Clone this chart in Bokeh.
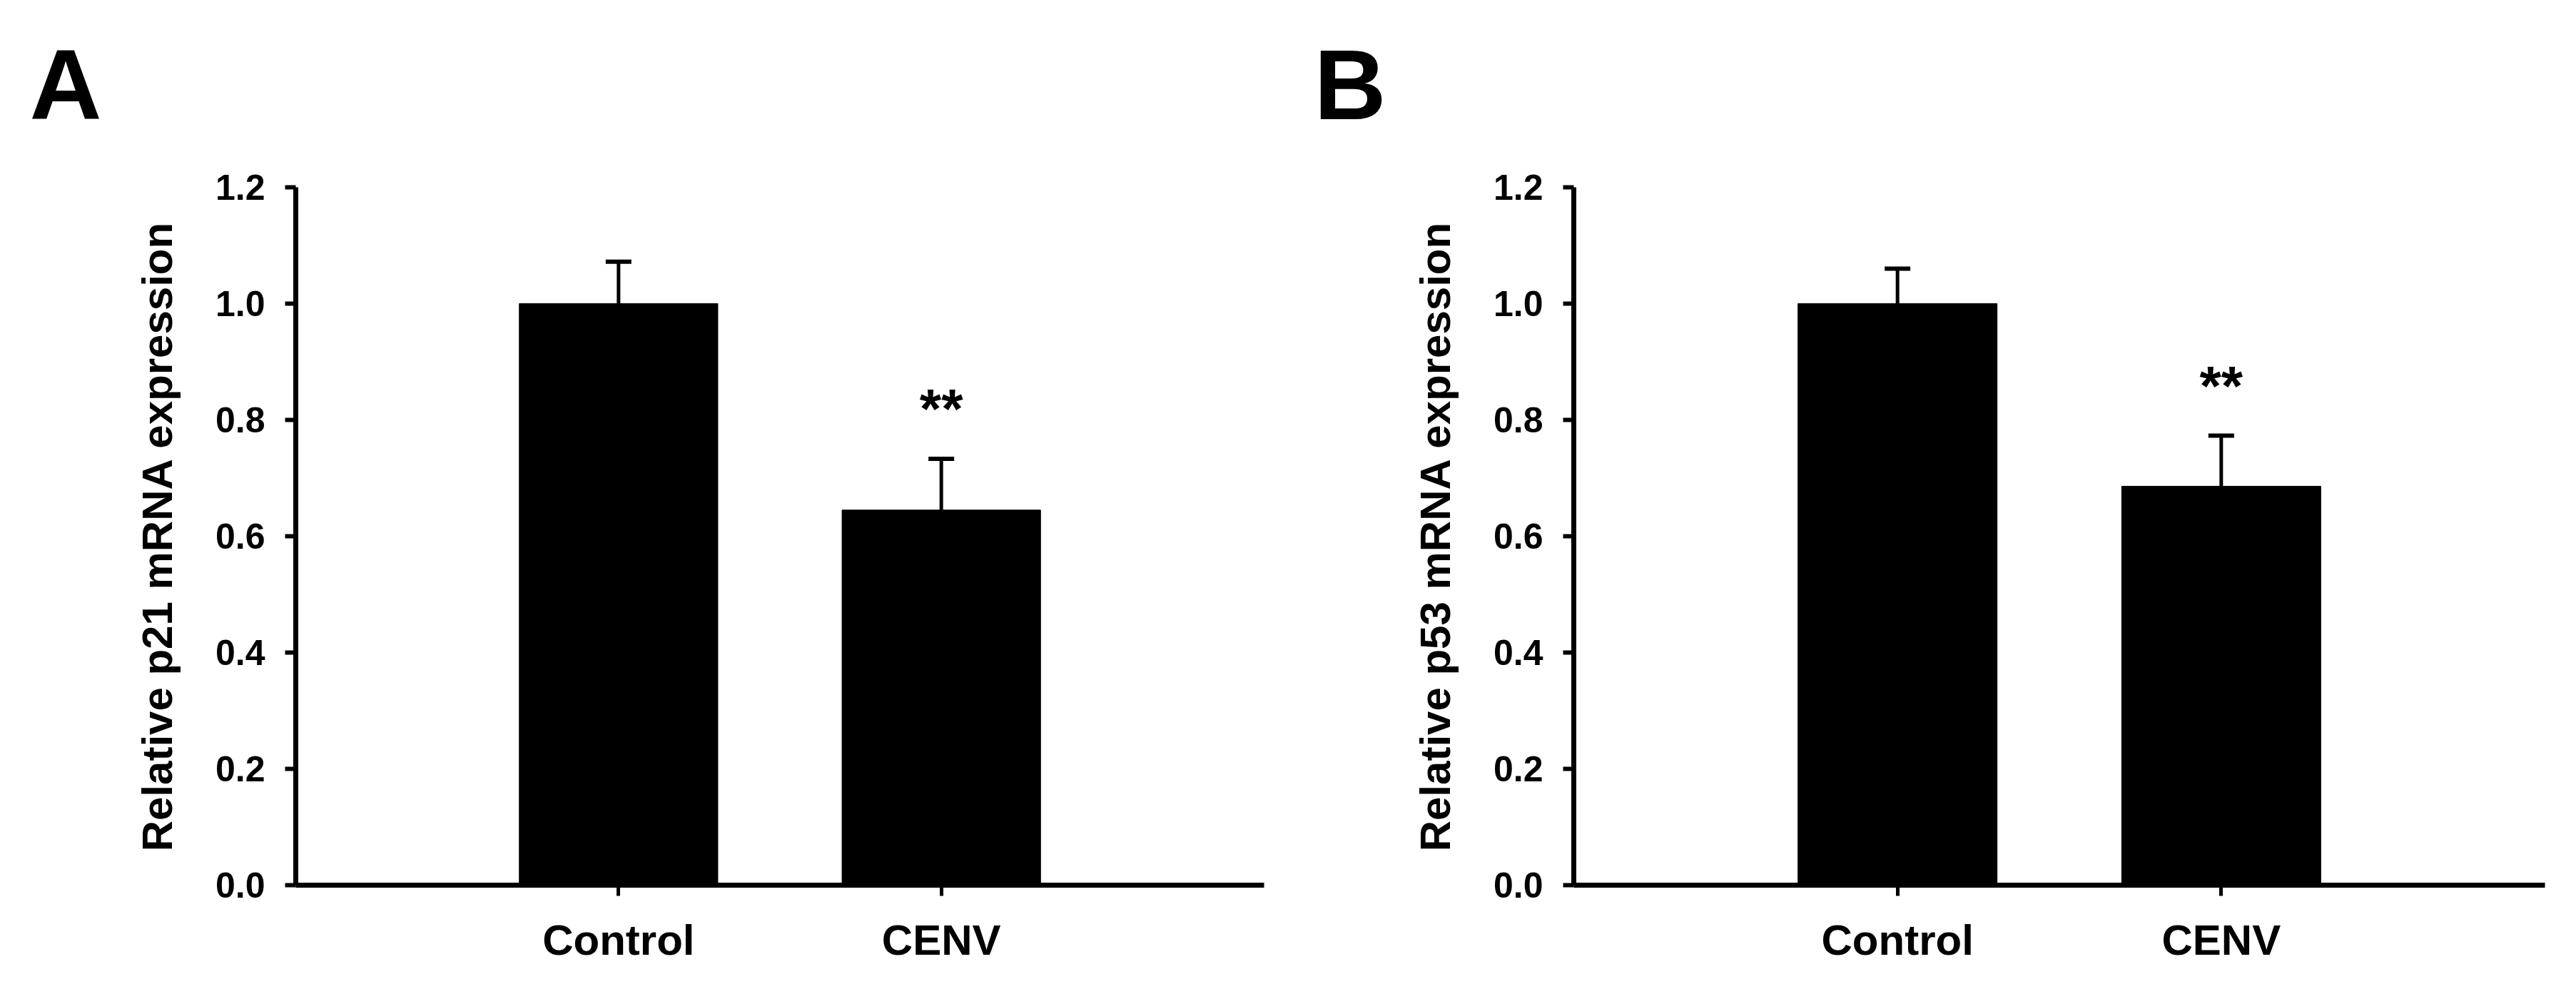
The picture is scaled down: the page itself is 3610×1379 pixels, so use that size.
from bokeh.plotting import figure
from bokeh.models import (Range1d, FixedTicker, PrintfTickFormatter, Whisker, TeeHead,
                          ColumnDataSource, Title)
from bokeh.layouts import row
from bokeh.embed import file_html
from bokeh.resources import INLINE
from bokeh.core.properties import value

# ---- data ----
categories = ["Control", "CENV"]
p21_mean = [1.00, 0.645]
p21_err = [0.072, 0.088]
p53_mean = [1.00, 0.686]
p53_err = [0.060, 0.087]
significance = ["", "**"]
y_ticks = [0.0, 0.2, 0.4, 0.6, 0.8, 1.0, 1.2]
panel_letters = ["A", "B"]
y_labels = ["Relative p21 mRNA expression", "Relative p53 mRNA expression"]

FONT = "Liberation Sans"
H = 1363


def make_panel(letter, ylabel, means, errs, width, b_left, b_right, letter_offset):
    xs = [i + 1 for i in range(len(categories))]
    p = figure(width=width, height=H, output_backend="svg", toolbar_location=None,
               x_range=Range1d(0, len(categories) + 1), y_range=Range1d(0, 1.2),
               min_border_left=b_left, min_border_right=b_right,
               min_border_top=262, min_border_bottom=123, tools="")
    p.outline_line_color = None
    p.xgrid.visible = False
    p.ygrid.visible = False
    p.background_fill_color = "white"
    p.border_fill_color = "white"

    # small spacer between the frame and the panel letter
    p.add_layout(Title(text=" ", text_font_size="8px", standoff=16), "above")

    p.title.text = letter
    p.title.text_font = FONT
    p.title.text_font_size = "140px"
    p.title.text_font_style = "bold"
    p.title.text_color = "black"
    p.title.align = "left"
    p.title.vertical_align = "top"
    p.title.offset = letter_offset
    p.title.standoff = 74

    src = ColumnDataSource(dict(x=xs, top=means,
                                upper=[m + e for m, e in zip(means, errs)],
                                lower=means, sig=significance))
    p.vbar(x="x", top="top", bottom=0, width=0.615, source=src,
           fill_color="black", line_color="black", line_width=1)

    wh = Whisker(base="x", upper="upper", lower="lower", source=src,
                 dimension="height", line_width=5, line_color="black",
                 upper_head=TeeHead(size=36, line_width=6, line_color="black"),
                 lower_head=None, level="overlay")
    p.add_layout(wh)

    p.text(x="x", y="upper", text="sig", source=src, text_align="center",
           text_baseline="alphabetic", y_offset=-70,
           text_font=value(FONT), text_font_size="78px", text_font_style="bold",
           text_color="black")

    # axes
    for ax in (p.xaxis[0], p.yaxis[0]):
        ax.axis_line_width = 7
        ax.axis_line_color = "black"
        ax.major_tick_line_width = 6
        ax.major_tick_line_color = "black"
        ax.major_tick_out = 15
        ax.major_tick_in = 0
        ax.minor_tick_line_color = None
        ax.major_label_text_font = FONT
        ax.major_label_text_font_style = "bold"
        ax.major_label_text_color = "black"

    p.yaxis.ticker = FixedTicker(ticks=y_ticks)
    p.yaxis.formatter = PrintfTickFormatter(format="%.1f")
    p.yaxis.major_label_text_font_size = "50px"
    p.yaxis.major_label_standoff = 28
    p.yaxis.axis_label = ylabel
    p.yaxis.axis_label_text_font = FONT
    p.yaxis.axis_label_text_font_size = "60px"
    p.yaxis.axis_label_text_font_style = "bold"
    p.yaxis.axis_label_text_color = "black"
    p.yaxis.axis_label_standoff = 45

    p.xaxis.ticker = FixedTicker(ticks=xs)
    p.xaxis.major_label_overrides = {x: c for x, c in zip(xs, categories)}
    p.xaxis.major_label_text_font_size = "60px"
    p.xaxis.major_label_standoff = 28
    p.xaxis.major_tick_line_width = 5
    return p


pa = make_panel(panel_letters[0], y_labels[0], p21_mean, p21_err, 1799, 414, 28, -373)
pb = make_panel(panel_letters[1], y_labels[1], p53_mean, p53_err, 1795, 406, 28, -364)

layout = row(pa, pb)
open("out.html", "w").write(file_html(layout, INLINE))
